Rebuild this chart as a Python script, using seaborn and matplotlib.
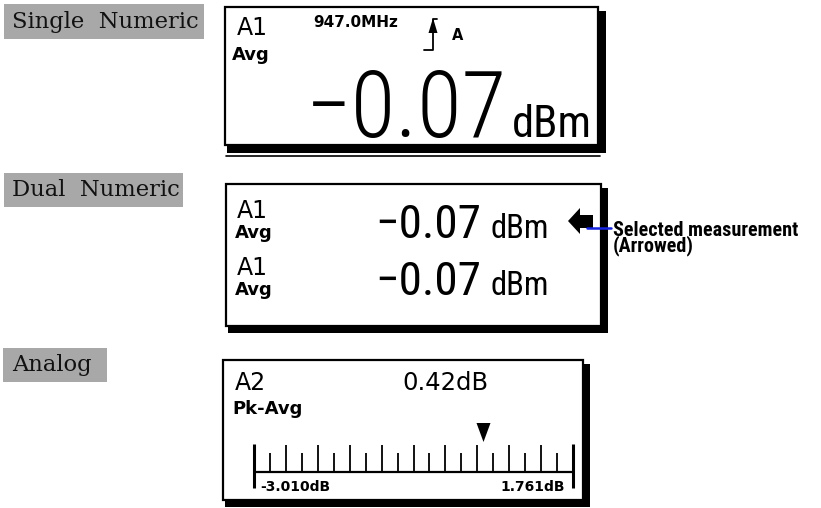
import matplotlib
matplotlib.use("Agg")

import numpy as np
import matplotlib.pyplot as plt
import seaborn as sns
from matplotlib import font_manager
from matplotlib.patches import Rectangle, Polygon
from matplotlib.path import Path

# display contents
mode_labels = ["Single  Numeric", "Dual  Numeric", "Analog"]

single_channel = "A1"
single_meas = "Avg"
frequency_mhz = 947.0
trigger_label = "A"
single_reading_dbm = -0.07

dual_channels = ["A1", "A1"]
dual_meas = ["Avg", "Avg"]
dual_readings_dbm = [-0.07, -0.07]
callout = ["Selected measurement", "(Arrowed)"]

analog_channel = "A2"
analog_meas = "Pk-Avg"
analog_reading_db = 0.42
scale_min_db = -3.010
scale_max_db = 1.761
n_scale_ticks = 21

W, H = 821, 508

sns.set_theme(style="white")
plt.rcParams["text.color"] = "black"
installed = {f.name for f in font_manager.fontManager.ttflist}
NARROW = "Roboto Condensed" if "Roboto Condensed" in installed else "DejaVu Sans"
LCD = "DejaVu Sans"
SERIF = "DejaVu Serif"
GREY = "#a8a8a8"


def fmt(v):
    return ("\u2212" if v < 0 else "") + f"{abs(v):.2f}"


def lcd_box(ax, x0, y0, x1, y1, sh=7):
    ax.add_patch(Rectangle((x0, y0), x1 - x0, y1 - y0, fill=False, lw=1.6, ec="black"))
    ax.add_patch(Rectangle((x1, y0 + 4), sh, y1 - y0 + sh - 4, color="black", lw=0))
    ax.add_patch(Rectangle((x0 + 2, y1), x1 - x0 + sh - 2, sh, color="black", lw=0))


def mode_tag(ax, x0, y0, x1, y1, label):
    ax.add_patch(Rectangle((x0, y0), x1 - x0, y1 - y0, color=GREY, lw=0))
    ax.text(12, y1 - 11, label, family=SERIF, fontsize=16.3, va="baseline", color="#111111")


fig = plt.figure(figsize=(W / 100, H / 100), dpi=100)
ax = fig.add_axes([0, 0, 1, 1])
ax.set_xlim(0, W)
ax.set_ylim(H, 0)
ax.axis("off")

# left tags
mode_tag(ax, 4, 4, 204, 39, mode_labels[0])
mode_tag(ax, 4, 173, 183, 207, mode_labels[1])
mode_tag(ax, 3, 348, 107, 382, mode_labels[2])

# ---- single numeric
lcd_box(ax, 225, 7, 598, 145, sh=8)
ax.plot([226, 600], [156, 156], color="black", lw=1.2)
ax.text(237, 35, single_channel, family=LCD, fontsize=17, va="baseline")
ax.text(232, 60, single_meas, family=LCD, fontsize=13, weight="bold", va="baseline")
ax.text(313, 27, f"{frequency_mhz:.1f}MHz", family=LCD, fontsize=11, weight="bold", va="baseline")
ax.plot([424, 433, 433, 437], [50, 50, 19, 19], color="black", lw=1.3)
ax.add_patch(Polygon([(433, 18), (428.5, 33), (437.5, 33)], color="black", lw=0))
ax.text(452, 40, trigger_label, family=LCD, fontsize=10.5, weight="bold", va="baseline")
ax.text(507, 137, fmt(single_reading_dbm), family=NARROW, weight="light", fontsize=66,
        ha="right", va="baseline")
ax.text(512, 137, "dBm", family=NARROW, fontsize=32, va="baseline")

# ---- dual numeric
lcd_box(ax, 226, 184, 601, 326, sh=7)
for i, (ch, ms, val) in enumerate(zip(dual_channels, dual_meas, dual_readings_dbm)):
    base = 238 + 57 * i
    ax.text(237, base - 20, ch, family=LCD, fontsize=17, va="baseline")
    ax.text(235, base, ms, family=LCD, fontsize=13, weight="bold", va="baseline")
    ax.text(481, base, fmt(val), family=NARROW, fontsize=34, ha="right", va="baseline")
    ax.text(490, base, "dBm", family=NARROW, fontsize=23.5, va="baseline")

ax.add_patch(Polygon([(568, 221), (580, 208), (580, 215), (593, 215), (593, 228),
                      (580, 228), (580, 234)], color="black", lw=0))
ax.plot([587, 611], [227.5, 227.5], color="#1424e0", lw=1.8)
ax.text(613, 251.5, "\n".join(callout), family=NARROW, weight="bold", fontsize=14.5,
        va="baseline", linespacing=0.72)

# ---- analog
lcd_box(ax, 223, 360, 583, 500, sh=7)
ax.text(235, 390, analog_channel, family=LCD, fontsize=17, va="baseline")
ax.text(232, 414, analog_meas, family=LCD, fontsize=13, weight="bold", va="baseline")
ax.text(402, 390, f"{analog_reading_db:.2f}dB", family=LCD, fontsize=17.5, va="baseline")

ax_m = fig.add_axes([254 / W, 1 - 495 / H, (573 - 254) / W, 80 / H])
ax_m.set_xlim(scale_min_db, scale_max_db)
ax_m.set_ylim(0, 80)
ax_m.axis("off")

ticks = np.linspace(scale_min_db, scale_max_db, n_scale_ticks)
inner = ticks[1:-1]
tops = np.where(np.arange(1, n_scale_ticks - 1) % 2 == 0, 50, 42)
ax_m.hlines(23, scale_min_db, scale_max_db, color="black", lw=1.6, clip_on=False)
ax_m.vlines(inner, 23, tops, color="black", lw=1.3)
ax_m.vlines([scale_min_db, scale_max_db], 7, 51, color="black", lw=2.2, clip_on=False)

pointer = Path([(-7, 9.5), (7, 9.5), (0, -9.5), (-7, 9.5)], closed=True)
sns.scatterplot(x=[analog_reading_db], y=[63], marker=pointer, s=187, color="black",
                linewidth=0, ax=ax_m, legend=False, clip_on=False)

ax_m.annotate(f"{scale_min_db:.3f}dB", xy=(scale_min_db, 4), xytext=(6, 0),
              textcoords="offset pixels", ha="left", va="baseline",
              family=LCD, fontsize=10, weight="bold")
ax_m.annotate(f"{scale_max_db:.3f}dB", xy=(scale_max_db, 4), xytext=(-8, 0),
              textcoords="offset pixels", ha="right", va="baseline",
              family=LCD, fontsize=10, weight="bold")

fig.savefig("out.png", dpi=100)
plt.close(fig)
